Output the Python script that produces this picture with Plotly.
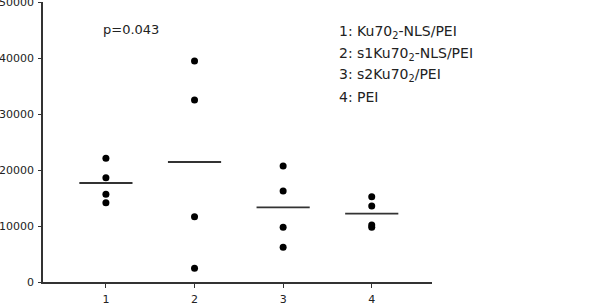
import plotly.graph_objects as go

groups = [1, 2, 3, 4]
values = [
    [22090, 18630, 15660, 14160],
    [39460, 32500, 11660, 2440],
    [20710, 16250, 9770, 6190],
    [15240, 13570, 10180, 9760],
]
means = [17680, 21430, 13330, 12200]
legend_lines = [
    "1: Ku70<sub>2</sub>-NLS/PEI",
    "2: s1Ku70<sub>2</sub>-NLS/PEI",
    "3: s2Ku70<sub>2</sub>/PEI",
    "4: PEI",
]
y_ticks = [0, 10000, 20000, 30000, 40000, 50000]
p_text = "p=0.043"

W, H = 601, 308
L, R, T, B = 43, 169, 2, 26

fig = go.Figure()
half = 0.3
for g, vals, m in zip(groups, values, means):
    fig.add_trace(go.Scatter(x=[g - half, g + half], y=[m, m], mode="lines",
                             line=dict(color="#333333", width=1.8),
                             hoverinfo="skip", showlegend=False))
    fig.add_trace(go.Scatter(x=[g] * len(vals), y=vals, mode="markers",
                             marker=dict(color="black", size=7),
                             showlegend=False))

def px_x(px):
    return (px - L) / (W - L - R)

def px_y(py):
    return 1 - (py - T) / (H - T - B)

fig.add_annotation(text=p_text, xref="paper", yref="paper", x=px_x(101), y=px_y(30),
                   xanchor="left", yanchor="middle", showarrow=False,
                   font=dict(family="DejaVu Sans", size=13, color="#222"))
for i, t in enumerate(legend_lines):
    fig.add_annotation(text=t, xref="paper", yref="paper", x=px_x(337), y=px_y(32 + 21.5 * i),
                       xanchor="left", yanchor="middle", showarrow=False,
                       font=dict(family="DejaVu Sans", size=14, color="#222"))

fig.update_layout(
    width=W, height=H,
    margin=dict(l=L, r=R, t=T, b=B),
    plot_bgcolor="white", paper_bgcolor="white",
    xaxis=dict(range=[0.29, 4.68], tickvals=groups, ticktext=[str(g) for g in groups],
               showgrid=False, zeroline=False, showline=True, linecolor="#333", linewidth=1.5,
               ticks="outside", ticklen=4, tickcolor="#333", automargin=False,
               ticklabelstandoff=2,
               tickfont=dict(family="DejaVu Sans", size=11, color="#222")),
    yaxis=dict(range=[0, 50000], tickvals=y_ticks, ticktext=[str(v) for v in y_ticks],
               showgrid=False, zeroline=False, showline=True, linecolor="#333", linewidth=1.5,
               ticks="outside", ticklen=3, tickcolor="#333", automargin=False,
               ticklabelstandoff=2, ticklabeloverflow="allow",
               tickfont=dict(family="DejaVu Sans", size=11, color="#222")),
)

fig.write_html("out.html")
